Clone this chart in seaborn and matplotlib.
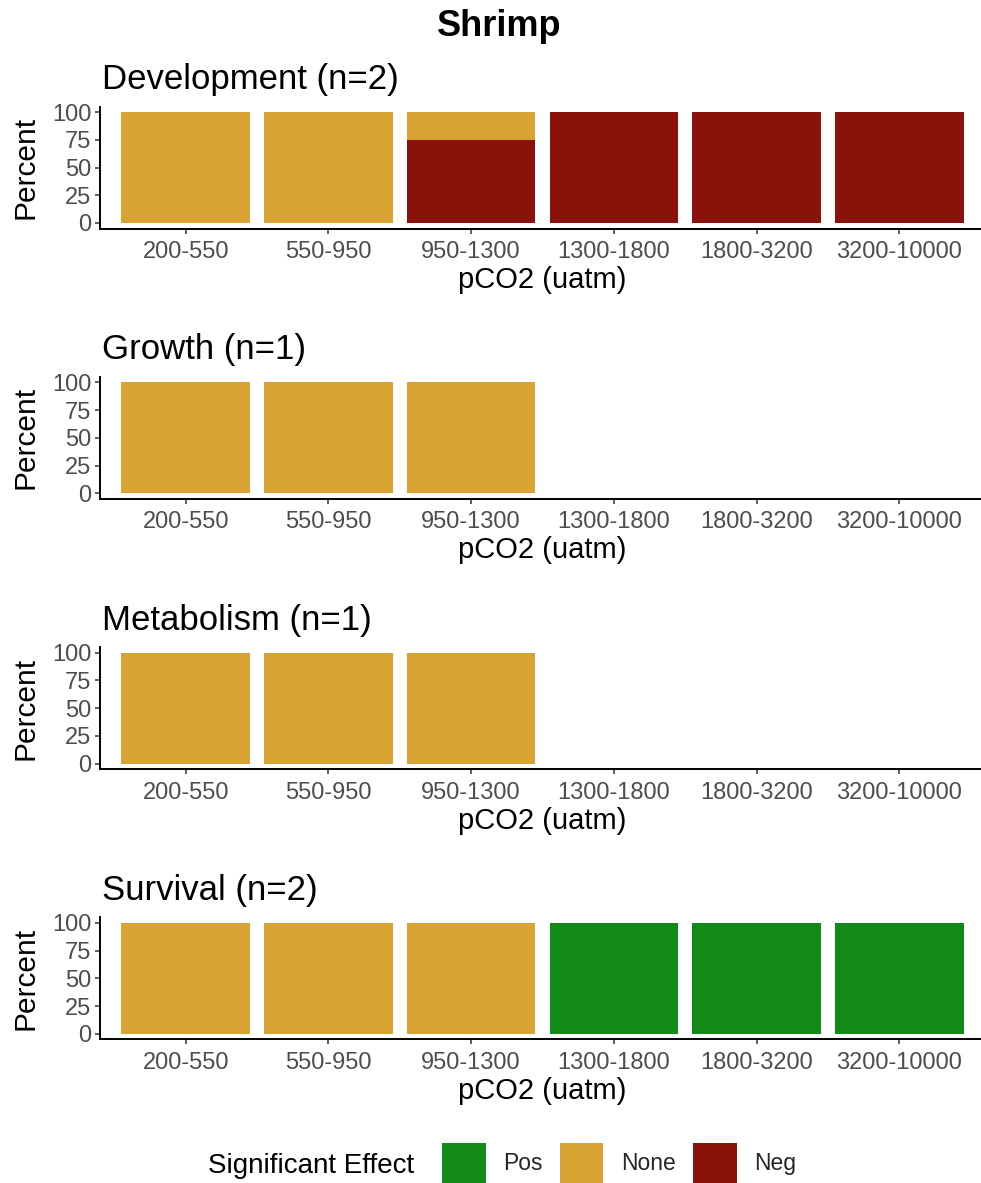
import matplotlib
matplotlib.use("Agg")
import matplotlib.pyplot as plt
from matplotlib.patches import Patch
import numpy as np
import pandas as pd
import seaborn as sns

# pCO2 bins shown on every panel
categories = ["200-550", "550-950", "950-1300", "1300-1800", "1800-3200", "3200-10000"]

# Percent of studies per effect direction, per response and pCO2 bin
development_pos = [0, 0, 0, 0, 0, 0]
development_none = [100, 100, 25, 0, 0, 0]
development_neg = [0, 0, 75, 100, 100, 100]

growth_pos = [0, 0, 0, 0, 0, 0]
growth_none = [100, 100, 100, 0, 0, 0]
growth_neg = [0, 0, 0, 0, 0, 0]

metabolism_pos = [0, 0, 0, 0, 0, 0]
metabolism_none = [100, 100, 100, 0, 0, 0]
metabolism_neg = [0, 0, 0, 0, 0, 0]

survival_pos = [0, 0, 0, 100, 100, 100]
survival_none = [100, 100, 100, 0, 0, 0]
survival_neg = [0, 0, 0, 0, 0, 0]

panel_titles = ["Development (n=2)", "Growth (n=1)", "Metabolism (n=1)", "Survival (n=2)"]
panel_data = [
    (development_pos, development_none, development_neg),
    (growth_pos, growth_none, growth_neg),
    (metabolism_pos, metabolism_none, metabolism_neg),
    (survival_pos, survival_none, survival_neg),
]
y_ticks = [0, 25, 50, 75, 100]

effects = ["Pos", "None", "Neg"]
palette = {"Pos": "#118A17", "None": "#D9A334", "Neg": "#8A120B"}

sns.set_theme(style="white")
plt.rcParams["font.family"] = ["Liberation Sans", "DejaVu Sans"]

W, H = 981, 1183
fig = plt.figure(figsize=(W / 100, H / 100), dpi=100)

step = 270.3
ax_left, ax_right = 100, 985
ax_top0, ax_h = 106.5, 122

for i, (title, (pos, none, neg)) in enumerate(zip(panel_titles, panel_data)):
    top = ax_top0 + step * i
    ax = fig.add_axes([ax_left / W, 1 - (top + ax_h) / H, (ax_right - ax_left) / W, ax_h / H])

    df = pd.DataFrame({"pCO2": categories, "Pos": pos, "None": none, "Neg": neg})
    # stacked from the bottom: Neg, then None, then Pos
    df["cum_neg"] = df["Neg"]
    df["cum_none"] = df["cum_neg"] + df["None"]
    df["cum_pos"] = df["cum_none"] + df["Pos"]

    for col, eff in [("cum_pos", "Pos"), ("cum_none", "None"), ("cum_neg", "Neg")]:
        sns.barplot(data=df, x="pCO2", y=col, order=categories, color=palette[eff],
                    saturation=1, width=0.9, edgecolor="none", linewidth=0, ax=ax)

    ax.set_xlim(-0.6, 5.6)
    ax.set_ylim(-5, 105)
    ax.set_yticks(y_ticks)
    ax.set_yticklabels([str(v) for v in y_ticks])
    ax.set_xlabel("pCO2 (uatm)", fontsize=21, color="black", labelpad=2)
    ax.set_ylabel("Percent", fontsize=21.5, color="black", labelpad=9)
    ax.tick_params(axis="both", which="major", bottom=True, left=True,
                   direction="out", length=3.6, width=1.1, color="#333333",
                   labelcolor="#4D4D4D", labelsize=17, pad=2.5)
    ax.tick_params(axis="x", pad=5.5)
    sns.despine(ax=ax)
    for side in ["left", "bottom"]:
        ax.spines[side].set_linewidth(1.4)
        ax.spines[side].set_color("black")
    ax.set_facecolor("white")

    fig.text(102 / W, 1 - (89 + step * i) / H, title, fontsize=25, color="black",
             ha="left", va="baseline")

fig.text(499 / W, 1 - 36 / H, "Shrimp", fontsize=26, fontweight="bold",
         color="black", ha="center", va="baseline")

# legend along the bottom
fig.text(208 / W, 1 - 1166 / H, "Significant Effect", fontsize=20, color="black",
         ha="left", va="center")
handles = [Patch(facecolor=palette[e], edgecolor="none") for e in effects]
fig.legend(handles, effects, ncol=3, loc="upper left",
           bbox_to_anchor=(442 / W, 1 - 1143 / H), fontsize=16.5,
           handlelength=1.9, handleheight=2.3, handletextpad=0.78,
           columnspacing=0.74, borderpad=0, borderaxespad=0, frameon=False)

fig.savefig("out.png", dpi=100, facecolor="white")
